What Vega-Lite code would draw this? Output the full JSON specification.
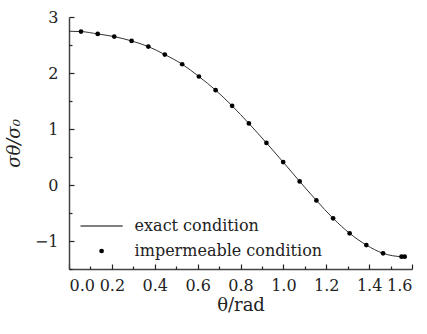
{
  "$schema": "https://vega.github.io/schema/vega-lite/v6.json",
  "width": 343,
  "height": 252,
  "autosize": "none",
  "padding": {"left": 69, "top": 17, "right": 15, "bottom": 65},
  "background": "white",
  "config": {
    "font": "DejaVu Serif",
    "view": {"stroke": null},
    "axis": {
      "grid": false,
      "domainColor": "#444",
      "domainWidth": 1.5,
      "tickColor": "#222",
      "tickWidth": 1.2,
      "labelColor": "#222",
      "labelFontSize": 16,
      "labelFont": "DejaVu Serif",
      "titleFont": "DejaVu Serif",
      "titleFontSize": 18,
      "titleFontWeight": "normal",
      "titleColor": "#222"
    }
  },
  "datasets": {
    "curve": [
      {"theta": 0.0, "ratio": 2.745},
      {"theta": 0.056, "ratio": 2.74},
      {"theta": 0.134, "ratio": 2.697},
      {"theta": 0.211, "ratio": 2.65},
      {"theta": 0.292, "ratio": 2.572},
      {"theta": 0.37, "ratio": 2.472},
      {"theta": 0.447, "ratio": 2.329},
      {"theta": 0.528, "ratio": 2.156},
      {"theta": 0.606, "ratio": 1.937},
      {"theta": 0.684, "ratio": 1.693},
      {"theta": 0.761, "ratio": 1.413},
      {"theta": 0.839, "ratio": 1.099},
      {"theta": 0.921, "ratio": 0.752},
      {"theta": 0.999, "ratio": 0.409},
      {"theta": 1.076, "ratio": 0.064},
      {"theta": 1.154, "ratio": -0.275},
      {"theta": 1.232, "ratio": -0.595},
      {"theta": 1.309, "ratio": -0.863},
      {"theta": 1.387, "ratio": -1.072},
      {"theta": 1.465, "ratio": -1.22},
      {"theta": 1.551, "ratio": -1.28},
      {"theta": 1.571, "ratio": -1.282}
    ],
    "points": [
      {"theta": 0.056, "ratio": 2.74, "series": "impermeable condition"},
      {"theta": 0.134, "ratio": 2.697, "series": "impermeable condition"},
      {"theta": 0.211, "ratio": 2.65, "series": "impermeable condition"},
      {"theta": 0.292, "ratio": 2.572, "series": "impermeable condition"},
      {"theta": 0.37, "ratio": 2.472, "series": "impermeable condition"},
      {"theta": 0.447, "ratio": 2.329, "series": "impermeable condition"},
      {"theta": 0.528, "ratio": 2.156, "series": "impermeable condition"},
      {"theta": 0.606, "ratio": 1.937, "series": "impermeable condition"},
      {"theta": 0.684, "ratio": 1.693, "series": "impermeable condition"},
      {"theta": 0.761, "ratio": 1.413, "series": "impermeable condition"},
      {"theta": 0.839, "ratio": 1.099, "series": "impermeable condition"},
      {"theta": 0.921, "ratio": 0.752, "series": "impermeable condition"},
      {"theta": 0.999, "ratio": 0.409, "series": "impermeable condition"},
      {"theta": 1.076, "ratio": 0.064, "series": "impermeable condition"},
      {"theta": 1.154, "ratio": -0.275, "series": "impermeable condition"},
      {"theta": 1.232, "ratio": -0.595, "series": "impermeable condition"},
      {"theta": 1.309, "ratio": -0.863, "series": "impermeable condition"},
      {"theta": 1.387, "ratio": -1.072, "series": "impermeable condition"},
      {"theta": 1.465, "ratio": -1.22, "series": "impermeable condition"},
      {"theta": 1.551, "ratio": -1.28, "series": "impermeable condition"},
      {"theta": 1.566, "ratio": -1.28, "series": "impermeable condition"}
    ]
  },
  "layer": [
    {
      "data": {"name": "curve"},
      "mark": {"type": "line", "color": "#333", "strokeWidth": 1, "interpolate": "monotone"},
      "encoding": {
        "x": {
          "field": "theta", "type": "quantitative",
          "scale": {"domain": [0, 1.6], "nice": false, "zero": false},
          "axis": {
            "orient": "bottom",
            "values": [0, 0.2, 0.4, 0.6, 0.8, 1.0, 1.2, 1.4, 1.6],
            "format": ".1f",
            "ticks": false,
            "labelPadding": 8,
            "title": "θ/rad",
            "titleX": 171.5,
            "titleY": 36,
            "titleBaseline": "middle"
          }
        },
        "y": {
          "field": "ratio", "type": "quantitative",
          "scale": {"domain": [-1.5, 3], "nice": false, "zero": false},
          "axis": {
            "orient": "left",
            "values": [-1, 0, 1, 2, 3],
            "format": "d",
            "ticks": false,
            "labelPadding": 11,
            "title": "σθ/σ₀",
            "titleX": -55,
            "titleY": 126,
            "titleAngle": -90,
            "titleBaseline": "middle",
            "titleFontStyle": "italic"
          }
        }
      }
    },
    {
      "data": {"name": "points"},
      "mark": {"type": "point", "filled": true, "size": 22, "color": "black", "opacity": 1},
      "encoding": {
        "x": {
          "field": "theta", "type": "quantitative",
          "axis": {
            "orient": "bottom",
            "values": [0, 0.2, 0.4, 0.6, 0.8, 1.0, 1.2, 1.4, 1.6],
            "offset": -5,
            "tickSize": 5,
            "labels": false,
            "domain": false,
            "title": null
          }
        },
        "y": {
          "field": "ratio", "type": "quantitative",
          "axis": {
            "orient": "left",
            "values": [-1, 0, 1, 2, 3],
            "offset": -5,
            "tickSize": 5,
            "labels": false,
            "domain": false,
            "title": null
          }
        },
        "shape": {
          "field": "series", "type": "nominal",
          "scale": {"domain": ["exact condition", "impermeable condition"], "range": ["M-9,-0.22H9V0.22H-9Z", "circle"]},
          "legend": {
            "orient": "none",
            "legendX": 24.6,
            "legendY": 201,
            "title": null,
            "padding": 0,
            "symbolSize": 22,
            "symbolFillColor": "#222",
            "symbolOpacity": 1,
            "labelFontSize": 16,
            "labelColor": "#222",
            "labelOffset": 25,
            "labelLimit": 400,
            "rowPadding": 9,
            "encode": {
              "symbols": {
                "update": {
                  "fill": {"value": "#222"}
                }
              }
            }
          }
        }
      }
    },
    {
      "data": {"name": "points"},
      "mark": {"type": "point", "opacity": 0},
      "encoding": {
        "x": {
          "field": "theta", "type": "quantitative",
          "axis": {
            "orient": "bottom",
            "values": [0.1, 0.3, 0.5, 0.7, 0.9, 1.1, 1.3, 1.5],
            "offset": -3,
            "tickSize": 3,
            "labels": false,
            "domain": false,
            "title": null
          }
        },
        "y": {
          "field": "ratio", "type": "quantitative",
          "axis": {
            "orient": "left",
            "values": [-1.5, -0.5, 0.5, 1.5, 2.5],
            "offset": -3,
            "tickSize": 3,
            "labels": false,
            "domain": false,
            "title": null
          }
        }
      }
    }
  ],
  "resolve": {"axis": {"x": "independent", "y": "independent"}}
}
